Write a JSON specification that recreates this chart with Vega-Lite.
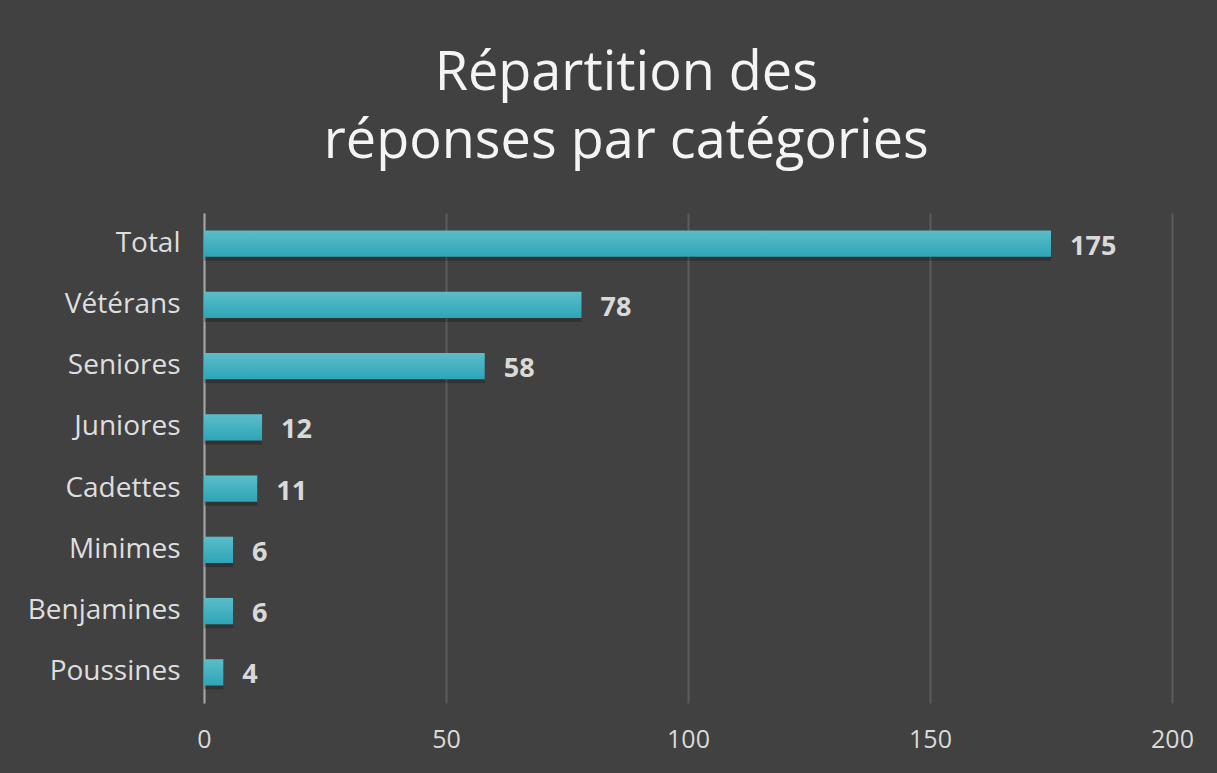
{
  "$schema": "https://vega.github.io/schema/vega-lite/v6.json",
  "autosize": {"type": "none"},
  "width": 968,
  "height": 490,
  "padding": {"left": 204, "top": 213, "right": 45, "bottom": 70},
  "background": "#414141",
  "title": {
    "text": ["Répartition des", "réponses par catégories"],
    "font": "Open Sans",
    "fontSize": 54,
    "fontWeight": "normal",
    "color": "#f4f4f4",
    "anchor": "middle",
    "frame": "bounds",
    "lineHeight": 68,
    "offset": 44,
    "dx": 16
  },
  "data": {
    "values": [
      {"cat": "Total", "n": 175},
      {"cat": "Vétérans", "n": 78},
      {"cat": "Seniores", "n": 58},
      {"cat": "Juniores", "n": 12},
      {"cat": "Cadettes", "n": 11},
      {"cat": "Minimes", "n": 6},
      {"cat": "Benjamines", "n": 6},
      {"cat": "Poussines", "n": 4}
    ]
  },
  "encoding": {
    "y": {
      "field": "cat",
      "type": "nominal",
      "sort": null,
      "scale": {"paddingInner": 0.57, "paddingOuter": 0.285},
      "axis": {
        "title": null,
        "labelFont": "Open Sans",
        "labelFontSize": 28,
        "labelColor": "#dedede",
        "labelPadding": 24,
        "ticks": false,
        "domainColor": "#a6a6a6",
        "domainWidth": 2,
        "grid": false
      }
    },
    "x": {
      "field": "n",
      "type": "quantitative",
      "scale": {"domain": [0, 200], "nice": false},
      "axis": {
        "title": null,
        "values": [0, 50, 100, 150, 200],
        "labelFont": "Open Sans",
        "labelFontSize": 25,
        "labelColor": "#dadada",
        "labelPadding": 24,
        "labelFlush": false,
        "ticks": false,
        "domain": false,
        "gridColor": "#5c5c5c",
        "gridWidth": 2
      }
    }
  },
  "layer": [
    {
      "mark": {"type": "bar", "color": "#000000", "opacity": 0.22, "yOffset": 4, "x2Offset": 3}
    },
    {
      "mark": {
        "type": "bar",
        "color": {
          "gradient": "linear",
          "x1": 0, "y1": 0, "x2": 0, "y2": 1,
          "stops": [
            {"offset": 0, "color": "#5bbdca"},
            {"offset": 1, "color": "#2ea5b7"}
          ]
        }
      }
    },
    {
      "mark": {
        "type": "text",
        "align": "left",
        "baseline": "middle",
        "dx": 19,
        "dy": 3,
        "font": "Open Sans",
        "fontSize": 27,
        "fontWeight": "bold",
        "color": "#d9d9d9"
      },
      "encoding": {"text": {"field": "n", "type": "quantitative"}}
    }
  ],
  "config": {"view": {"stroke": null}}
}
